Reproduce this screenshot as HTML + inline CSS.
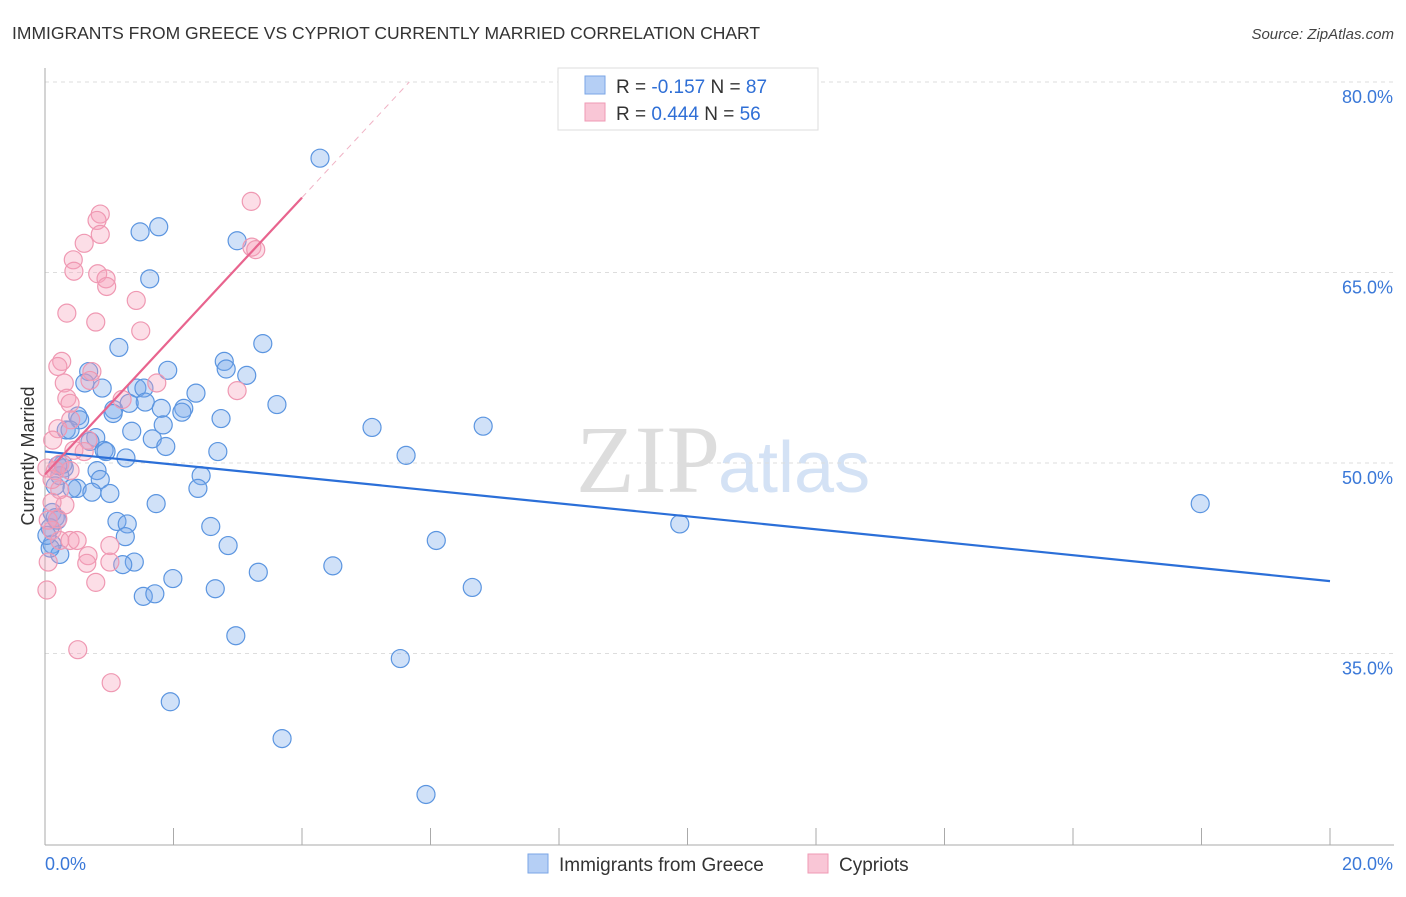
<!DOCTYPE html>
<html><head><meta charset="utf-8"><style>
body{margin:0;background:#fff;font-family:"Liberation Sans",sans-serif}
</style></head><body>
<svg width="1406" height="892" xmlns="http://www.w3.org/2000/svg" id="c">
<text x="12" y="39" font-size="17.5" fill="#333">IMMIGRANTS FROM GREECE VS CYPRIOT CURRENTLY MARRIED CORRELATION CHART</text>
<text x="1394" y="39" font-size="15" fill="#444" text-anchor="end" font-style="italic">Source: ZipAtlas.com</text>
<text x="720" y="492" font-size="96" fill="#ddd" text-anchor="end" font-family="Liberation Serif">ZIP</text>
<text x="718" y="492" font-size="72" fill="#d4e2f5">atlas</text>
<text transform="translate(34,456) rotate(-90)" font-size="18" fill="#333" text-anchor="middle">Currently Married</text>
<g id="grid"></g><g id="pts"></g><g id="lines"></g>
<g>
<rect x="558" y="68" width="260" height="62" fill="#fff" stroke="#ddd"/>
<rect x="585" y="76" width="20" height="18" fill="#b5cff5" stroke="#7aa6e6"/>
<rect x="585" y="103" width="20" height="18" fill="#f9c6d6" stroke="#ef9ab4"/>
<text x="616" y="93" font-size="19" fill="#333">R = <tspan fill="#2f6fd6">-0.157</tspan>   N = <tspan fill="#2f6fd6">87</tspan></text>
<text x="616" y="120" font-size="19" fill="#333">R =  <tspan fill="#2f6fd6">0.444</tspan>   N = <tspan fill="#2f6fd6">56</tspan></text>
</g>
<g>
<rect x="528" y="854" width="20" height="19" fill="#b5cff5" stroke="#7aa6e6"/>
<text x="559" y="871" font-size="19" fill="#333">Immigrants from Greece</text>
<rect x="808" y="854" width="20" height="19" fill="#f9c6d6" stroke="#ef9ab4"/>
<text x="839" y="871" font-size="19" fill="#333">Cypriots</text>
</g>
</svg>
<script>
const blueX=[4.28,1.48,1.77,2.99,1.63,1.15,3.39,2.79,2.82,1.91,3.14,0.68,0.62,0.89,1.43,1.54,2.35,3.61,1.56,1.07,1.31,1.81,2.16,2.13,2.74,0.51,0.54,5.09,6.82,0.33,0.39,1.35,1.84,1.67,0.79,0.70,1.88,0.92,0.95,2.69,5.62,1.26,0.30,0.81,2.43,0.86,0.23,0.16,0.50,0.42,0.73,1.01,2.38,1.73,0.11,0.16,0.19,1.12,1.28,2.58,9.88,17.98,1.25,6.09,2.85,0.11,0.23,1.39,1.21,3.32,4.48,1.99,2.65,1.53,1.71,6.65,2.97,5.53,1.95,3.69,5.93,0.08,0.08,0.03,0.28,1.06,0.20];
const blueY=[74.0,68.2,68.6,67.5,64.5,59.1,59.4,58.0,57.4,57.3,56.9,57.2,56.3,55.9,55.9,55.9,55.5,54.6,54.8,54.2,54.7,54.3,54.3,54.0,53.5,53.7,53.4,52.8,52.9,52.6,52.6,52.5,53.0,51.9,52.0,51.7,51.3,51.0,50.9,50.9,50.6,50.4,49.6,49.4,49.0,48.7,49.0,48.2,48.0,48.0,47.7,47.6,48.0,46.8,46.1,45.7,45.5,45.4,45.2,45.0,45.2,46.8,44.2,43.9,43.5,43.6,42.8,42.2,42.0,41.4,41.9,40.9,40.1,39.5,39.7,40.2,36.4,34.6,31.2,28.3,23.9,44.9,43.3,44.3,49.9,53.9,49.8];
const pinkX=[3.21,0.86,0.81,0.61,0.86,0.44,0.45,0.82,0.95,0.96,1.42,0.34,0.79,1.49,0.26,0.20,0.30,0.73,0.70,1.74,2.99,0.34,0.39,1.20,0.40,0.20,0.12,0.67,0.45,0.61,0.23,0.16,0.03,0.23,0.31,0.11,0.20,0.11,0.23,0.39,0.50,1.01,1.01,0.67,0.65,0.79,0.05,0.03,0.51,1.03,3.22,3.28,0.11,0.05,0.39];
const pinkY=[70.6,69.6,69.1,67.3,68.0,66.0,65.1,64.9,64.5,63.9,62.8,61.8,61.1,60.4,58.0,57.6,56.3,57.2,56.5,56.3,55.7,55.1,54.7,55.0,53.4,52.7,51.8,51.8,51.0,50.9,49.9,49.4,49.6,47.9,46.7,46.9,45.6,44.7,43.9,43.9,43.9,43.5,42.2,42.7,42.1,40.6,42.2,40.0,35.3,32.7,67.0,66.8,48.7,45.5,49.4];
const yTicks=[80,65,50,35];
const yTickLabels=["80.0%","65.0%","50.0%","35.0%"];
const blueTrend=[[0,50.9],[20,40.7]];
const pinkTrend=[[0,49.1],[4,70.9]];
const pinkDash=[[4,70.9],[5.67,80]];
const NS="http://www.w3.org/2000/svg";
const X=v=>45+v/20*1285, Y=v=>82+(80-v)/15*190.5;
function mk(t,a,p){const e=document.createElementNS(NS,t);for(const k in a)e.setAttribute(k,a[k]);p.appendChild(e);return e;}
const g=document.getElementById('grid');
yTicks.forEach((t,i)=>{
 const l=mk('line',{x1:45,x2:1394,y1:Y(t),y2:Y(t),stroke:'#ddd','stroke-dasharray':'4,4'},g);
 
 
 const tx=mk('text',{x:1393,y:Y(t)+21,'font-size':18,fill:'#3a78d8','text-anchor':'end'},g);
 tx.textContent=yTickLabels[i];
 
 
});
const ax=mk('line',{x1:45,x2:45,y1:68,y2:845,stroke:'#aaa'},g);


const bx=mk('line',{x1:45,x2:1394,y1:845,y2:845,stroke:'#aaa'},g);


for(let i=0;i<=10;i++){const t=mk('line',{x1:X(i*2),x2:X(i*2),y1:828,y2:845,stroke:'#aaa'},g);
 
 }
[["0.0%",45,'start'],["20.0%",1393,'end']].forEach(a=>{const t=mk('text',{x:a[1],y:870,'font-size':18,fill:'#3a78d8','text-anchor':a[2]},g);t.textContent=a[0];
 
 });
const p=document.getElementById('pts');
blueX.forEach((v,i)=>{const c=mk('circle',{cx:X(v),cy:Y(blueY[i]),r:9,fill:'rgba(120,170,235,0.35)',stroke:'#5b95e0','stroke-width':1.2},p);
 
 });
pinkX.forEach((v,i)=>{const c=mk('circle',{cx:X(v),cy:Y(pinkY[i]),r:9,fill:'rgba(245,160,185,0.35)',stroke:'#ef98b2','stroke-width':1.2},p);
 
 });
const L=document.getElementById('lines');
const b=mk('line',{x1:X(blueTrend[0][0]),y1:Y(blueTrend[0][1]),x2:X(blueTrend[1][0]),y2:Y(blueTrend[1][1]),stroke:'#2b6fd8','stroke-width':2.2},L);


const pk=mk('line',{x1:X(pinkTrend[0][0]),y1:Y(pinkTrend[0][1]),x2:X(pinkTrend[1][0]),y2:Y(pinkTrend[1][1]),stroke:'#e8648e','stroke-width':2.2},L);


const pd=mk('line',{x1:X(pinkDash[0][0]),y1:Y(pinkDash[0][1]),x2:X(pinkDash[1][0]),y2:Y(pinkDash[1][1]),stroke:'#f0b3c5','stroke-width':1,'stroke-dasharray':'6,5'},L);


</script>
</body></html>
